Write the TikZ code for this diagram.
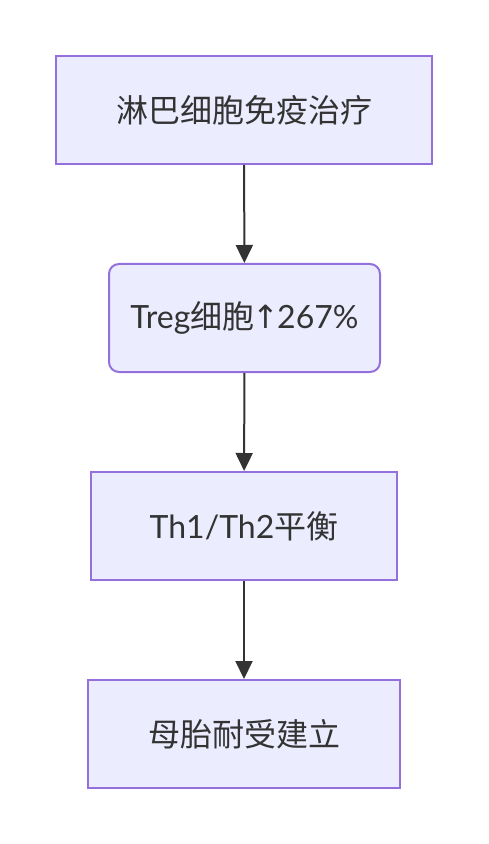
\documentclass[tikz,border=0pt]{standalone}
\usepackage{fontspec}
\setmainfont{Lato}
\newfontfamily\cjk{Noto Sans CJK SC}
\newfontfamily\arrowfont{DejaVu Sans}
\usetikzlibrary{arrows.meta}
\begin{document}
\begin{tikzpicture}[x=0.5pt, y=-0.5pt]
    % Define colors
    \definecolor{boxfill}{HTML}{ECECFF}
    \definecolor{boxline}{HTML}{9370DB}
    \definecolor{ink}{HTML}{333333}

    % Define styles
    \tikzstyle{stage} = [rectangle, draw=boxline, fill=boxfill, line width=1pt, minimum height=54pt, inner sep=0pt, text=ink, font=\fontsize{16pt}{19pt}\selectfont]
    \tikzstyle{link} = [-{Triangle[width=8.5pt, length=9pt]}, line width=1pt, draw=ink]

    % Canvas
    \useasboundingbox (0,0) rectangle (488,844);

    % Stages
    \node[stage, minimum width=188pt] (therapy) at (244,110) {\cjk 淋巴细胞免疫治疗};
    \node[stage, minimum width=135.5pt, rounded corners=5pt] (treg) at (244.5,318) {Treg{\cjk 细胞}\kern-1pt{\arrowfont ↑}\kern-1pt 267\%};
    \node[stage, minimum width=153pt] (balance) at (244,526) {Th1/Th2{\cjk 平衡}};
    \node[stage, minimum width=156pt] (tolerance) at (244,734) {\cjk 母胎耐受建立};

    % Arrows
    \draw[link] (therapy) -- (treg);
    \draw[link] (treg) -- (balance);
    \draw[link] (balance) -- (tolerance);
\end{tikzpicture}
\end{document}
